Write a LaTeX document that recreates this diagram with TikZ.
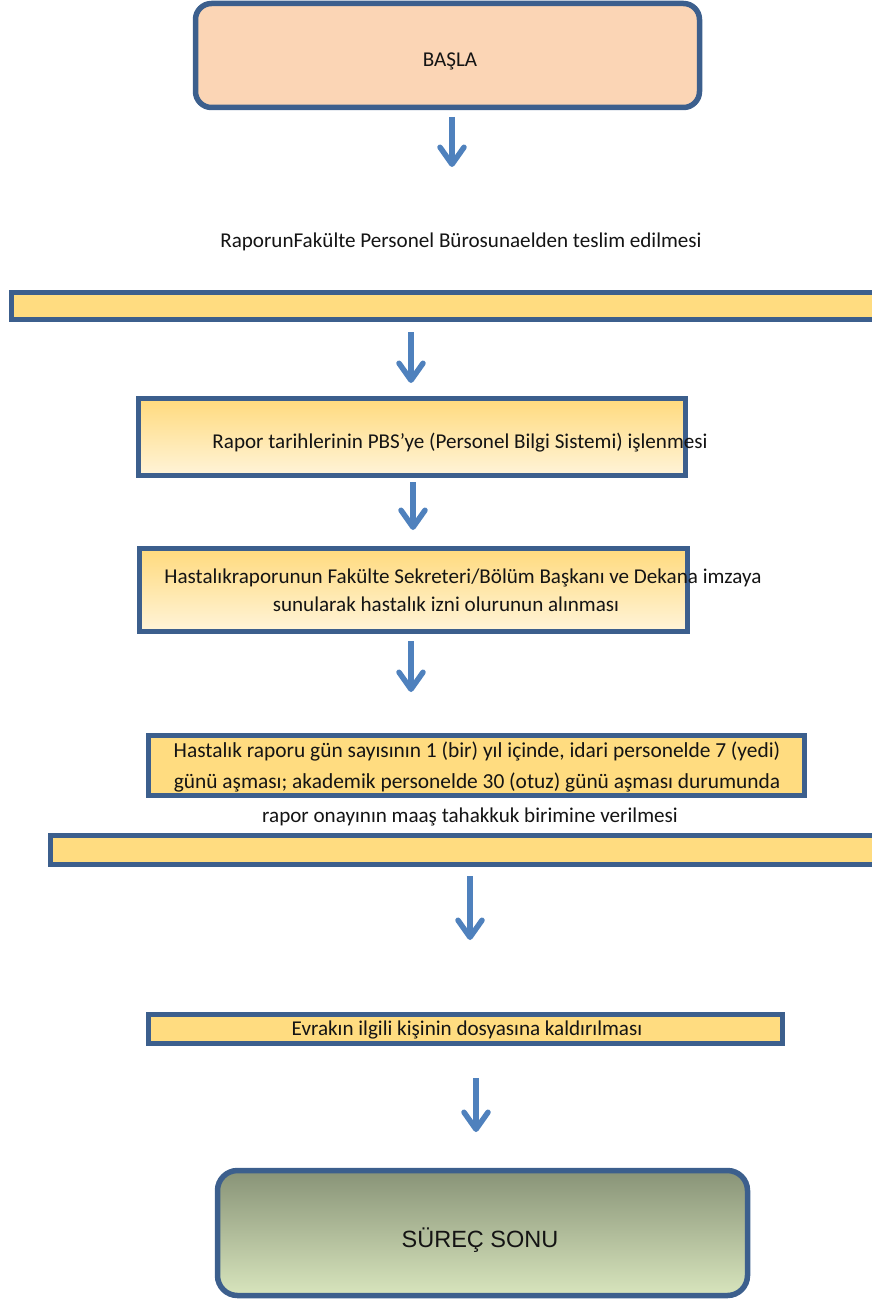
\documentclass[tikz,border=0pt]{standalone}
\usepackage{fontspec}
\setmainfont{Carlito}
\newfontfamily\arialfont{Liberation Sans}
\usetikzlibrary{arrows.meta}
\definecolor{bordc}{HTML}{3C5F8D}
\definecolor{arrc}{HTML}{4F81BD}
\definecolor{peach}{HTML}{FBD5B5}
\definecolor{yel}{HTML}{FFDC80}
\definecolor{yeltop}{HTML}{FFDA7D}
\definecolor{yelbot}{HTML}{FFF4D9}
\definecolor{grtop}{HTML}{889377}
\definecolor{grbot}{HTML}{D8E5BD}
\tikzset{
  box/.style={draw=bordc, line width=5.5pt, inner sep=0pt, anchor=center},
  flatbox/.style={box, fill=yel},
  gradbox/.style={box, top color=yeltop, bottom color=yelbot},
  txt/.style={font=\fontsize{21.1}{26}\selectfont, inner sep=0pt, text=black!92},
  arr/.style={draw=arrc, line width=5.5pt, line join=round, line cap=butt,
    -{Straight Barb[length=17pt,width=24pt,line width=5.5pt, round]}},
}
\begin{document}
\begin{tikzpicture}[x=1pt,y=-1pt]
\useasboundingbox (0,0) rectangle (871,1300);
% start
\node[box, fill=peach, rounded corners=16pt, minimum width=504pt, minimum height=104pt] (start) at (447.5,55.5) {};
\node[txt] (tstart) at (450,61) {BAŞLA};
% bar 1 text
\node[txt] (t1) at (461,242) {RaporunFakülte Personel Bürosunaelden teslim edilmesi};
\node[flatbox, minimum width=880pt, minimum height=27pt] (bar1) at (451.5,306) {};
% box 3
\node[gradbox, minimum width=547pt, minimum height=77pt] (b3) at (412,437) {};
\node[txt] (t3) at (460,443) {Rapor tarihlerinin PBS’ye (Personel Bilgi Sistemi) işlenmesi};
% box 4
\node[gradbox, minimum width=548pt, minimum height=83pt] (b4) at (413.5,590) {};
\node[txt] (t4a) at (463,578) {Hastalıkraporunun Fakülte Sekreteri/Bölüm Başkanı ve Dekana imzaya};
\node[txt] (t4b) at (446,604) {sunularak hastalık izni olurunun alınması};
% box 5
\node[flatbox, minimum width=656pt, minimum height=60pt] (b5) at (476.5,765.5) {};
\node[txt, align=center, font=\fontsize{21.4}{31}\selectfont] (t5) at (477,767) {Hastalık raporu gün sayısının 1 (bir) yıl içinde, idari personelde 7 (yedi)\\günü aşması; akademik personelde 30 (otuz) günü aşması durumunda};
\node[txt] (t5b) at (470,817) {rapor onayının maaş tahakkuk birimine verilmesi};
\node[flatbox, minimum width=840pt, minimum height=29pt] (bar2) at (470.5,850) {};
% box 6
\node[flatbox, minimum width=634pt, minimum height=29pt] (b6) at (465.5,1029) {};
\node[txt] (t6) at (467,1030) {Evrakın ilgili kişinin dosyasına kaldırılması};
% end
\node[box, top color=grtop, bottom color=grbot, rounded corners=20pt, minimum width=530pt, minimum height=125pt] (end) at (482.5,1233) {};
\node[txt, font=\arialfont\fontsize{23.5}{28}\selectfont] (tend) at (480,1240) {SÜREÇ SONU};
% arrows
\coordinate (a1s) at (452,117); \coordinate (a1e) at (452,167);
\coordinate (a2s) at (411,332); \coordinate (a2e) at (411,383);
\coordinate (a3s) at (413,482); \coordinate (a3e) at (413,530);
\coordinate (a4s) at (411,641); \coordinate (a4e) at (411,692);
\coordinate (a5s) at (470,876); \coordinate (a5e) at (470,940);
\coordinate (a6s) at (476,1078); \coordinate (a6e) at (476,1132);
\draw[arr] (a1s) -- (a1e);
\draw[arr] (a2s) -- (a2e);
\draw[arr] (a3s) -- (a3e);
\draw[arr] (a4s) -- (a4e);
\draw[arr] (a5s) -- (a5e);
\draw[arr] (a6s) -- (a6e);
\end{tikzpicture}
\end{document}
